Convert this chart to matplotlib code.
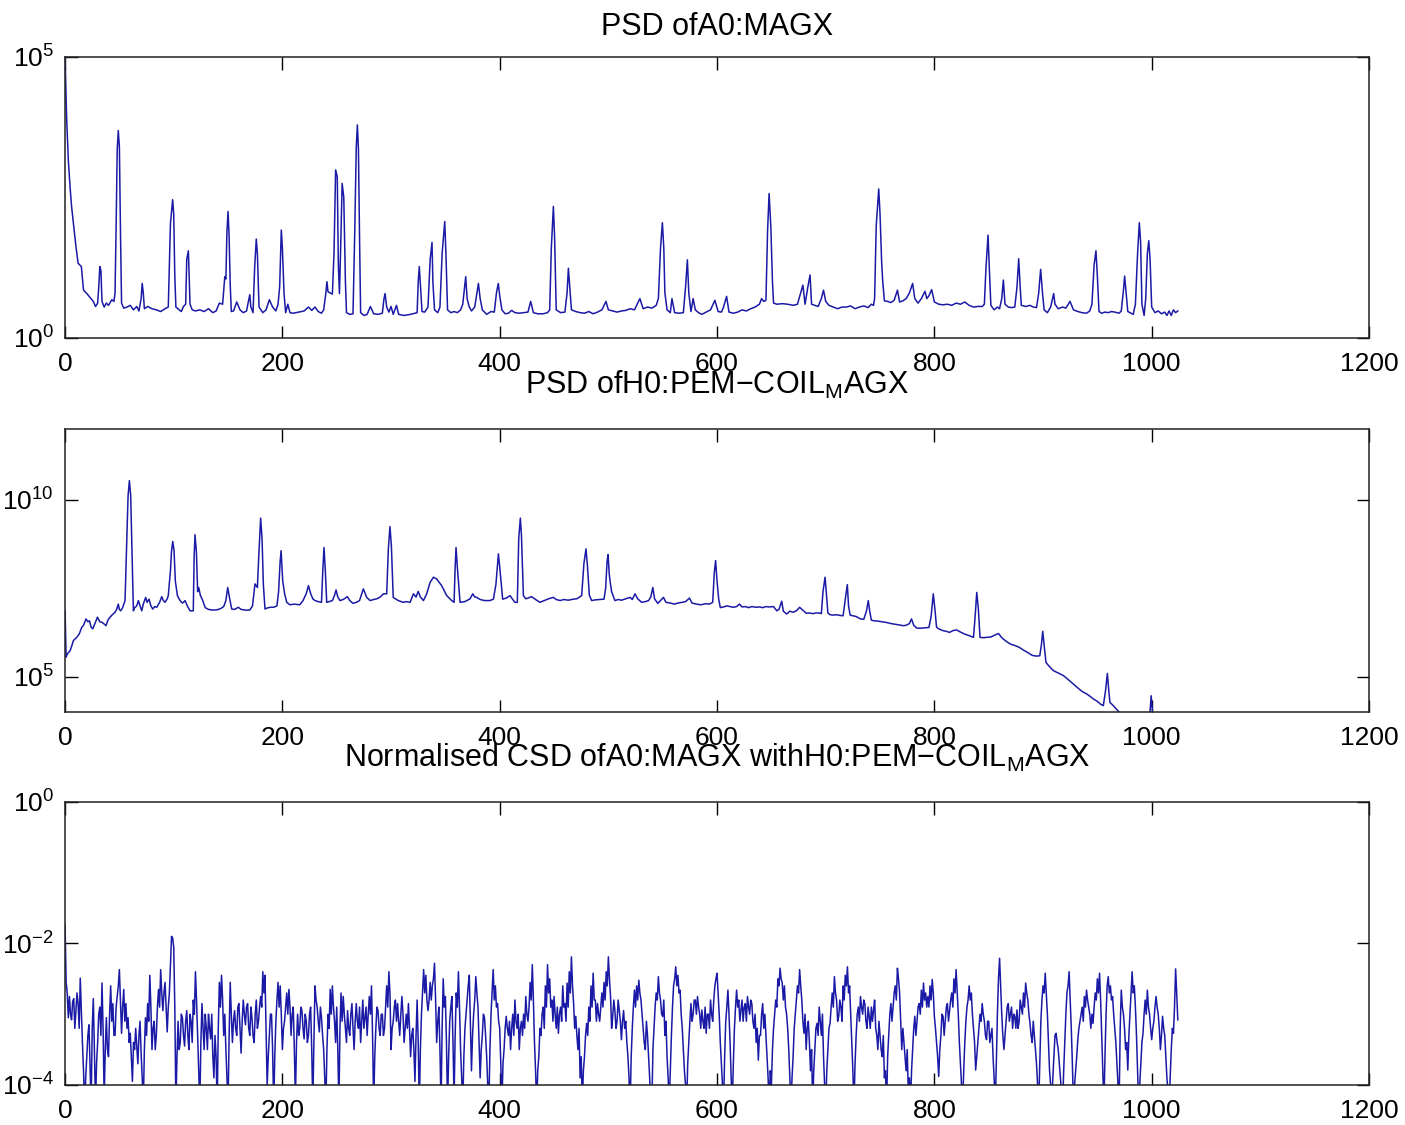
import numpy as np
import matplotlib.pyplot as plt
from matplotlib.ticker import NullLocator

plt.rcParams["font.family"] = ["Liberation Sans", "DejaVu Sans"]
plt.rcParams["mathtext.fontset"] = "custom"
plt.rcParams["mathtext.rm"] = "Liberation Sans"
plt.rcParams["mathtext.it"] = "Liberation Sans:italic"
plt.rcParams["mathtext.bf"] = "Liberation Sans:bold"

# PSD of A0:MAGX -- (frequency [Hz], log10 PSD)
a0_psd = [
    (0, 5.0), (1.5, 3.88), (3, 3.17), (4.6, 2.69), (6, 2.34), (8, 1.98), (10, 1.63),
    (12, 1.33), (15, 1.27), (17, 0.85), (20, 0.79), (23, 0.72), (26, 0.65), (28, 0.56),
    (30, 0.62), (31, 0.90), (32, 1.27), (33, 1.20), (34, 0.65), (36, 0.55), (38, 0.62),
    (40, 0.58), (43, 0.68), (45, 0.65), (46, 0.80), (47, 1.98), (48, 3.35), (49, 3.69),
    (50, 3.40), (51, 1.90), (52, 0.62), (54, 0.53), (57, 0.55), (60, 0.58), (63, 0.50),
    (66, 0.56), (68, 0.48), (70, 0.70), (71, 0.97), (72, 0.80), (73, 0.52), (76, 0.56),
    (80, 0.52), (84, 0.50), (88, 0.47), (92, 0.52), (95, 0.55), (97, 2.04), (99, 2.46),
    (100, 2.20), (101, 1.10), (102, 0.55), (105, 0.50), (107, 0.47), (109, 0.56),
    (111, 0.60), (112, 1.40), (113.5, 1.55), (115, 0.60), (117, 0.50), (120, 0.48),
    (124, 0.50), (128, 0.47), (132, 0.52), (136, 0.45), (139, 0.48), (142, 0.62),
    (145, 0.60), (146, 0.85), (147, 1.09), (148, 1.05), (149, 1.90), (150, 2.25),
    (151, 1.80), (152, 0.95), (153, 0.47), (155, 0.48), (158, 0.64), (161, 0.50),
    (164, 0.45), (167, 0.48), (170, 0.77), (171, 0.55), (173, 0.45), (174.5, 1.26),
    (176, 1.76), (177, 1.50), (178.5, 0.55), (182, 0.45), (185, 0.50), (188, 0.68),
    (191, 0.55), (194, 0.48), (196, 0.60), (197.5, 0.91), (199, 1.92), (200, 1.60),
    (201.5, 0.80), (203, 0.45), (205, 0.60), (207, 0.45), (210, 0.44), (215, 0.46),
    (220, 0.48), (224, 0.55), (227, 0.49), (230, 0.55), (233, 0.47), (236, 0.44),
    (238, 0.50), (240, 0.80), (241, 1.00), (242, 0.82), (244, 0.80), (246, 0.78),
    (247.5, 1.50), (249, 2.99), (250.5, 2.87), (251.5, 1.30), (252.5, 0.79), (253.5, 1.50),
    (255, 2.75), (256.5, 2.50), (258, 1.00), (259, 0.45), (262, 0.42), (265, 0.43),
    (266.5, 1.80), (268, 3.40), (269, 3.79), (270, 3.35), (271, 1.80), (272, 0.45),
    (275, 0.40), (278, 0.42), (281, 0.56), (284, 0.43), (288, 0.42), (292, 0.44),
    (293.5, 0.70), (294.5, 0.79), (296, 0.55), (298, 0.46), (300, 0.56), (302, 0.42),
    (305, 0.58), (307, 0.42), (312, 0.40), (318, 0.42), (322, 0.44), (324, 0.45),
    (325, 1.00), (326, 1.27), (327, 0.95), (328.5, 0.47), (331, 0.46), (334, 0.55),
    (336, 1.40), (337.7, 1.70), (338.5, 1.00), (340, 0.50), (343, 0.45), (345, 0.55),
    (347, 1.50), (349.4, 2.07), (350.5, 1.50), (352, 0.50), (355, 0.45), (358, 0.47),
    (361, 0.45), (364, 0.50), (366, 0.60), (368.7, 1.09), (370, 0.70), (372, 0.55),
    (374, 0.48), (377, 0.55), (379, 0.80), (380.4, 0.97), (382, 0.70), (384, 0.50),
    (388, 0.42), (392, 0.47), (395, 0.46), (397, 0.80), (398.7, 0.97), (400, 0.75),
    (402, 0.50), (405, 0.43), (408, 0.44), (411, 0.49), (414, 0.45), (418, 0.44),
    (422, 0.45), (426, 0.46), (428.5, 0.65), (431, 0.45), (435, 0.43), (440, 0.43),
    (444, 0.45), (446, 0.50), (447.5, 1.60), (449.4, 2.34), (450.5, 1.80), (452, 0.50),
    (456, 0.45), (460, 0.46), (462, 0.80), (463.2, 1.24), (464.5, 0.90), (466, 0.50),
    (470, 0.47), (474, 0.45), (478, 0.44), (482, 0.47), (486, 0.43), (490, 0.46),
    (494, 0.50), (497.8, 0.65), (500, 0.50), (504, 0.48), (508, 0.46), (512, 0.48),
    (516, 0.49), (520, 0.52), (524, 0.50), (529, 0.70), (532, 0.52), (536, 0.55),
    (540, 0.53), (544, 0.58), (546, 0.70), (548, 1.60), (549.7, 2.05), (551, 1.60),
    (552, 0.80), (554, 0.50), (557, 0.45), (558.5, 0.70), (561, 0.45), (565, 0.44),
    (569, 0.45), (571, 0.90), (572.7, 1.39), (574, 0.80), (576, 0.47), (578, 0.70),
    (580, 0.50), (583, 0.45), (586, 0.42), (590, 0.46), (594, 0.50), (598, 0.67),
    (601, 0.47), (604, 0.46), (606, 0.55), (608.8, 0.74), (611, 0.46), (615, 0.44),
    (619, 0.46), (623, 0.50), (627, 0.48), (631, 0.52), (635, 0.55), (639, 0.60),
    (641, 0.70), (643, 0.65), (645, 0.67), (646.5, 1.90), (647.9, 2.57), (649.5, 1.98),
    (651, 1.00), (652, 0.62), (655, 0.60), (660, 0.61), (665, 0.60), (670, 0.58),
    (674, 0.60), (677, 0.80), (679, 0.94), (681, 0.60), (683.5, 0.90), (685.6, 1.12),
    (687, 0.60), (690, 0.58), (693, 0.56), (696, 0.70), (698, 0.85), (700, 0.65),
    (703, 0.58), (707, 0.55), (711, 0.52), (715, 0.55), (719, 0.55), (723, 0.57),
    (727, 0.52), (731, 0.55), (735, 0.57), (739, 0.54), (742, 0.60), (744, 0.58),
    (745, 0.70), (746.5, 2.00), (748.8, 2.65), (750, 2.20), (751.5, 1.34), (752.5, 1.00),
    (754, 0.66), (757, 0.65), (760, 0.63), (763, 0.67), (766, 0.85), (768, 0.64),
    (771, 0.66), (774, 0.70), (777, 0.80), (780, 0.97), (782, 0.70), (785, 0.62),
    (788, 0.70), (791.4, 0.83), (793, 0.70), (795, 0.75), (797.5, 0.86), (800, 0.64),
    (804, 0.60), (808, 0.59), (812, 0.60), (816, 0.58), (820, 0.62), (824, 0.60),
    (828, 0.64), (832, 0.58), (836, 0.55), (840, 0.56), (844, 0.56), (846, 0.60),
    (847.5, 1.25), (849.4, 1.83), (850.5, 1.27), (852, 0.58), (855, 0.50), (858, 0.55),
    (860, 0.52), (862, 0.70), (863.5, 1.03), (865, 0.60), (868, 0.55), (871, 0.54),
    (874, 0.55), (876, 0.90), (877.6, 1.41), (879, 0.90), (880, 0.58), (884, 0.56),
    (888, 0.58), (891, 0.55), (894, 0.54), (896, 0.80), (897.8, 1.22), (899.5, 0.80),
    (901, 0.50), (904, 0.45), (907, 0.55), (909.8, 0.79), (911, 0.60), (914, 0.52),
    (918, 0.55), (921, 0.53), (924.8, 0.65), (928, 0.50), (932, 0.47), (936, 0.45),
    (940, 0.44), (943, 0.48), (945, 0.60), (947, 1.30), (948.7, 1.55), (950, 1.10),
    (951.5, 0.47), (954, 0.44), (957, 0.46), (960, 0.45), (963, 0.47), (966, 0.46),
    (970, 0.44), (972, 0.48), (974, 0.85), (975.1, 1.10), (976.5, 0.80), (978, 0.47),
    (980, 0.45), (983, 0.42), (985, 0.60), (987, 1.50), (988.6, 2.05), (989.8, 1.70),
    (991, 0.60), (993, 0.40), (994.5, 0.70), (996, 1.50), (997.3, 1.73), (998.5, 1.40),
    (1000, 0.55), (1003, 0.45), (1006, 0.48), (1009, 0.43), (1012, 0.46), (1014, 0.40),
    (1016, 0.48), (1018, 0.40), (1020, 0.50), (1022, 0.45), (1024, 0.48),
]

# PSD of H0:PEM-COIL_MAGX -- (frequency [Hz], log10 PSD); falls below 1e4 past ~970 Hz
h0_psd = [
    (0, 6.86), (1, 5.55), (2, 5.64), (4.6, 5.73), (6, 5.85), (7.7, 6.02), (10.7, 6.11),
    (13, 6.20), (15.3, 6.39), (17, 6.45), (19.3, 6.63), (21, 6.55), (22.4, 6.58),
    (24, 6.40), (25.5, 6.35), (27.5, 6.50), (29.8, 6.68), (32, 6.55), (33.7, 6.54),
    (35.5, 6.50), (37.7, 6.44), (39.5, 6.60), (41.4, 6.68), (43.5, 6.75), (46, 6.82),
    (47.5, 6.90), (49, 7.05), (50, 6.90), (51.2, 6.86), (53, 6.95), (55.2, 7.15),
    (56.7, 8.75), (58, 10.11), (59.2, 10.54), (60.4, 10.11), (61.7, 8.42), (62.9, 6.86),
    (64, 6.95), (66, 7.00), (67.5, 7.15), (69, 7.00), (70.6, 6.86), (72, 7.05),
    (74.2, 7.24), (75.5, 7.10), (77.3, 7.19), (79, 7.00), (80.7, 6.91), (82.5, 6.98),
    (84.4, 6.96), (87, 7.10), (89, 7.26), (90.5, 7.15), (92, 7.10), (94, 7.20),
    (95, 7.29), (97, 8.00), (98, 8.55), (99.1, 8.82), (100.3, 8.56), (101.5, 7.70),
    (103.4, 7.29), (105.8, 7.15), (108, 7.08), (109, 7.10), (110.4, 7.15), (112.5, 7.00),
    (115, 6.86), (118, 6.86), (118.8, 8.40), (119.6, 9.01), (120.9, 8.51), (122, 7.40),
    (123, 7.52), (124.5, 7.30), (126.7, 7.15), (129, 6.95), (132, 6.90), (136, 6.88),
    (140, 6.89), (143, 6.92), (146, 6.98), (148, 7.15), (149.7, 7.52), (151.5, 7.20),
    (153.4, 6.91), (156, 6.90), (159.5, 6.96), (162, 6.90), (166, 6.88), (170, 6.88),
    (172.5, 7.00), (174.8, 7.62), (177, 7.52), (178.5, 8.56), (180, 9.48), (181.3, 8.89),
    (182.5, 7.60), (184, 6.91), (186, 6.94), (189, 6.96), (192, 6.96), (195, 7.00),
    (196.5, 7.40), (197.9, 8.23), (198.8, 8.56), (200.3, 7.71), (202, 7.35),
    (204, 7.10), (207, 7.03), (211, 7.05), (216, 7.03), (219, 7.15), (222, 7.35),
    (224, 7.57), (226, 7.35), (228, 7.20), (230, 7.15), (233, 7.12), (236, 7.10),
    (237.2, 8.00), (238.3, 8.65), (239.5, 8.00), (240.8, 7.10), (243, 7.12),
    (246, 7.15), (248, 7.30), (249.4, 7.45), (251, 7.25), (253, 7.15), (256, 7.18),
    (259.8, 7.26), (262, 7.15), (265, 7.07), (268, 7.10), (271, 7.15), (274.5, 7.48),
    (277.6, 7.24), (280.7, 7.15), (284, 7.18), (287, 7.20), (290, 7.25), (293, 7.34),
    (296, 7.34), (297.5, 8.60), (299, 9.24), (300.3, 8.70), (302, 7.24), (304, 7.20),
    (306.7, 7.15), (311, 7.10), (314, 7.12), (317.5, 7.10), (320.6, 7.34), (323, 7.25),
    (325, 7.41), (327, 7.25), (329.8, 7.15), (332.8, 7.34), (335.9, 7.66), (339, 7.81),
    (342, 7.76), (346.6, 7.57), (351.2, 7.29), (355.8, 7.15), (358, 7.10), (359, 8.10),
    (359.8, 8.65), (361, 8.10), (363.5, 7.10), (368, 7.12), (372.7, 7.20), (375.2, 7.34),
    (377, 7.25), (378.8, 7.24), (382, 7.18), (386, 7.15), (391, 7.15), (394.2, 7.19),
    (396.5, 7.60), (398.8, 8.47), (400, 8.10), (402.7, 7.19), (406, 7.22), (409.5, 7.29),
    (412, 7.18), (414, 7.10), (416.2, 7.10), (417.5, 8.90), (419, 9.48), (420, 9.00),
    (421.8, 7.29), (424, 7.20), (426, 7.22), (429.4, 7.26), (433, 7.18), (437, 7.10),
    (441, 7.15), (445, 7.20), (449.4, 7.24), (452, 7.18), (455.6, 7.15), (459, 7.18),
    (463, 7.16), (467.8, 7.19), (471, 7.20), (473.5, 7.25), (475.4, 7.29), (477.5, 8.20),
    (479.4, 8.61), (480.8, 8.10), (482.5, 7.30), (484.6, 7.15), (488, 7.17), (492, 7.18),
    (496, 7.19), (497.5, 7.50), (498.8, 8.25), (499.7, 8.45), (500.8, 7.90), (501.5, 7.71),
    (503, 7.40), (506, 7.15), (509, 7.18), (512, 7.16), (516, 7.20), (520, 7.24),
    (522, 7.18), (524.5, 7.34), (527, 7.20), (530.6, 7.10), (534, 7.12), (537, 7.15),
    (539, 7.25), (540.9, 7.52), (542.5, 7.20), (545.5, 7.07), (548, 7.15), (550.7, 7.24),
    (553, 7.10), (557, 7.08), (560.8, 7.05), (564, 7.08), (568, 7.10), (571, 7.12),
    (574.6, 7.22), (577, 7.08), (581, 7.05), (585.3, 7.03), (589, 7.06), (593, 7.05),
    (596, 7.10), (597.5, 7.95), (598.7, 8.28), (600, 7.70), (601.5, 7.20), (603, 6.95),
    (606, 6.97), (609, 7.00), (612, 6.98), (615, 6.96), (618, 6.98), (620.6, 7.05),
    (623, 6.97), (626, 6.98), (629, 6.95), (632, 6.98), (636, 6.96), (639, 6.97),
    (642, 6.95), (645, 6.98), (648, 6.97), (652, 6.98), (655, 6.86), (657, 6.90),
    (659.5, 7.13), (661, 6.85), (664, 6.77), (667, 6.85), (670, 6.82), (673, 6.86),
    (676, 6.96), (678, 6.90), (680, 6.85), (682, 6.79), (685, 6.80), (688, 6.78),
    (691, 6.80), (694, 6.80), (696, 6.78), (697.5, 7.40), (699.4, 7.81), (700.5, 7.40),
    (702, 6.80), (704, 6.75), (707, 6.74), (710, 6.75), (713, 6.73), (716, 6.72),
    (718.5, 7.30), (719.9, 7.60), (721, 7.00), (722.5, 6.74), (725, 6.72), (728, 6.70),
    (732, 6.63), (735, 6.62), (737.5, 6.85), (739.2, 7.15), (740.5, 6.85), (742, 6.60),
    (744, 6.58), (748, 6.57), (752, 6.55), (756, 6.53), (760, 6.50), (764, 6.48),
    (768, 6.46), (771, 6.44), (774, 6.45), (777, 6.50), (779, 6.63), (781, 6.45),
    (784, 6.37), (788, 6.37), (792, 6.38), (795, 6.39), (797, 6.70), (799, 7.34),
    (800.5, 6.90), (802, 6.40), (804, 6.35), (808, 6.30), (811, 6.28), (814, 6.25),
    (817, 6.30), (820.5, 6.32), (824, 6.26), (828, 6.20), (832, 6.16), (836, 6.11),
    (837.5, 6.70), (839, 7.38), (840.5, 6.90), (842, 6.11), (845, 6.10), (848, 6.11),
    (852, 6.12), (856, 6.18), (859, 6.22), (862, 6.10), (866, 6.00), (870, 5.92),
    (874, 5.88), (878, 5.83), (882, 5.75), (886, 5.68), (890, 5.60), (894, 5.58),
    (897, 5.59), (898.5, 5.90), (899.7, 6.28), (901, 5.90), (902.7, 5.40), (906, 5.28),
    (909.5, 5.17), (914, 5.10), (918.7, 5.03), (923, 4.92), (927.9, 4.79), (932, 4.68),
    (936, 4.58), (940.2, 4.51), (943, 4.45), (946.3, 4.37), (950, 4.30), (953, 4.22),
    (955.5, 4.18), (957.5, 4.60), (959.2, 5.09), (960.5, 4.60), (961.6, 4.27),
    (964, 4.20), (967, 4.10), (970.9, 3.97), (975, 3.85), (980, 3.75), (985, 3.65),
    (990, 3.60), (995, 3.55), (998, 3.80), (999.5, 4.46), (1000.5, 4.10), (1002, 3.50),
    (1010, 3.40), (1024, 3.20),
]

# Normalised CSD, log10 values in 1 Hz bins from 0 Hz (20 bins per row)
csd_bin_hz = 1
csd_log = [
    -1.74, -2.55, -2.70, -3.05, -2.75, -3.00, -3.08, -2.82, -2.78, -3.20, -2.95, -2.70, -2.85, -3.20, -2.49, -2.95, -3.40, -3.80, -4.30, -3.90,
    -3.60, -3.30, -3.15, -3.70, -4.30, -3.20, -2.78, -3.50, -4.30, -3.70, -3.40, -3.00, -2.90, -3.30, -2.56, -3.20, -4.20, -3.50, -3.05, -3.50,
    -3.60, -3.00, -2.60, -3.10, -2.85, -3.30, -3.30, -2.90, -2.75, -2.60, -2.37, -2.80, -3.27, -2.90, -2.65, -3.10, -2.85, -3.20, -3.05, -3.40,
    -3.27, -3.60, -3.95, -3.40, -3.50, -3.20, -3.45, -3.70, -3.30, -3.10, -3.55, -3.90, -4.30, -3.50, -3.05, -3.30, -2.85, -3.10, -2.45, -2.90,
    -3.50, -3.20, -3.10, -3.50, -3.30, -2.90, -2.65, -2.90, -2.37, -2.70, -2.95, -2.70, -2.55, -2.90, -3.25, -2.90, -2.70, -2.30, -1.90, -1.92,
    -2.05, -2.90, -4.30, -3.60, -3.10, -3.50, -3.40, -3.00, -3.05, -3.30, -3.45, -3.10, -2.95, -3.30, -3.50, -3.00, -3.10, -3.40, -2.80, -3.00,
    -2.40, -2.80, -3.30, -3.80, -4.30, -3.40, -2.85, -3.20, -3.50, -3.00, -3.20, -3.50, -3.00, -3.20, -3.35, -3.00, -3.60, -3.90, -3.30, -3.60,
    -4.30, -3.20, -2.55, -2.90, -2.45, -2.80, -3.30, -3.00, -3.50, -3.90, -4.30, -3.30, -2.55, -3.00, -3.40, -3.10, -2.95, -3.20, -3.30, -2.90,
    -2.85, -3.20, -3.55, -3.10, -2.80, -3.00, -3.15, -2.90, -2.85, -3.20, -3.30, -2.90, -3.05, -3.30, -3.40, -3.00, -2.80, -3.20, -3.10, -2.90,
    -2.75, -2.90, -2.40, -2.70, -2.45, -3.20, -4.00, -3.60, -3.30, -3.00, -3.00, -3.50, -4.30, -3.60, -3.10, -2.80, -2.55, -2.90, -2.60, -3.00,
    -3.50, -3.20, -3.10, -2.90, -2.70, -3.00, -2.65, -2.90, -3.30, -3.00, -2.90, -3.50, -4.20, -3.40, -3.00, -3.30, -3.20, -2.90, -2.95, -3.20,
    -3.35, -3.00, -3.10, -3.40, -3.30, -3.00, -2.90, -3.50, -4.30, -3.40, -2.60, -2.80, -2.90, -3.10, -3.25, -2.90, -3.05, -3.30, -3.50, -3.90,
    -4.30, -3.50, -3.00, -3.20, -2.65, -3.00, -2.60, -2.90, -3.10, -3.40, -2.90, -3.50, -4.30, -3.20, -2.70, -3.10, -2.75, -3.00, -3.20, -3.40,
    -2.95, -3.20, -3.30, -3.00, -2.85, -3.20, -3.50, -3.10, -2.85, -3.10, -3.20, -2.90, -3.40, -3.10, -2.80, -3.20, -3.05, -2.90, -3.30, -3.00,
    -2.75, -3.00, -2.60, -3.30, -4.30, -3.60, -3.20, -2.90, -2.95, -3.20, -3.30, -3.00, -3.00, -3.30, -3.20, -2.90, -2.60, -2.90, -2.40, -2.70,
    -3.50, -3.20, -3.10, -2.90, -2.80, -3.10, -2.85, -3.10, -3.30, -3.00, -2.75, -3.00, -3.40, -3.20, -3.00, -3.20, -2.85, -3.20, -3.60, -3.30,
    -3.20, -3.50, -3.95, -3.30, -2.80, -3.40, -4.30, -3.50, -3.00, -2.70, -2.37, -2.70, -2.45, -2.80, -2.95, -2.80, -2.55, -2.80, -2.60, -2.50,
    -2.28, -2.80, -3.40, -3.10, -2.90, -3.50, -4.30, -3.20, -2.50, -2.90, -2.75, -3.40, -4.30, -3.60, -3.10, -2.90, -2.75, -3.40, -4.20, -3.30,
    -2.70, -2.90, -2.40, -2.90, -3.50, -3.90, -4.30, -3.60, -3.20, -3.00, -2.80, -2.60, -2.45, -3.10, -3.80, -3.30, -3.00, -2.80, -2.47, -2.70,
    -2.90, -3.40, -3.90, -3.50, -3.30, -3.00, -3.05, -3.30, -3.60, -4.00, -4.30, -3.50, -3.00, -2.70, -2.37, -2.80, -2.60, -2.90, -2.85, -3.10,
    -3.20, -3.70, -4.30, -3.70, -3.50, -3.20, -3.03, -3.20, -3.30, -3.10, -3.50, -3.20, -3.00, -3.30, -2.80, -3.10, -3.20, -3.00, -3.50, -3.20,
    -3.10, -3.30, -3.00, -3.20, -2.75, -3.00, -3.10, -2.90, -2.55, -2.80, -2.30, -2.80, -3.40, -3.80, -4.30, -3.80, -3.60, -3.20, -3.30, -3.00,
    -2.90, -3.20, -2.60, -2.90, -2.30, -2.70, -2.50, -2.90, -2.80, -3.10, -2.75, -3.00, -3.20, -2.90, -3.27, -3.00, -2.90, -3.10, -2.60, -2.90,
    -2.85, -3.10, -2.56, -2.90, -2.40, -2.70, -2.19, -2.60, -2.85, -3.20, -3.03, -3.30, -3.50, -3.20, -3.90, -3.60, -4.30, -3.80, -3.60, -3.30,
    -3.13, -3.30, -2.90, -3.10, -2.60, -2.90, -2.42, -2.80, -2.80, -3.10, -2.85, -3.00, -3.10, -2.90, -2.70, -2.90, -2.55, -2.80, -2.40, -2.60,
    -2.19, -2.50, -2.75, -3.20, -3.03, -2.80, -2.95, -3.20, -3.10, -2.80, -2.94, -3.10, -3.36, -3.10, -2.95, -3.20, -3.10, -3.40, -3.60, -3.90,
    -4.30, -3.60, -3.20, -2.90, -2.66, -2.90, -2.60, -2.80, -2.52, -2.70, -2.80, -3.00, -3.20, -3.40, -3.50, -3.10, -3.30, -3.60, -3.90, -4.30,
    -4.30, -3.50, -3.20, -2.90, -2.70, -2.80, -2.47, -2.70, -2.80, -3.00, -3.03, -2.80, -3.30, -3.10, -3.60, -3.90, -4.30, -3.80, -3.30, -2.90,
    -2.60, -2.50, -2.33, -2.60, -2.45, -2.70, -2.66, -3.00, -3.20, -3.50, -3.80, -4.00, -4.30, -3.70, -3.40, -3.10, -2.85, -3.10, -3.00, -2.80,
    -2.80, -3.00, -2.75, -2.90, -3.00, -3.20, -2.94, -3.10, -3.20, -2.90, -3.27, -3.00, -3.00, -3.20, -2.80, -3.00, -3.10, -2.80, -2.60, -2.50,
    -2.42, -2.70, -3.00, -3.40, -3.70, -4.00, -4.30, -3.60, -3.10, -2.90, -2.66, -3.00, -3.40, -3.90, -4.30, -3.70, -3.20, -2.90, -2.66, -2.90,
    -2.80, -3.10, -2.94, -2.80, -3.10, -2.90, -2.85, -3.10, -2.75, -2.90, -3.00, -2.80, -2.85, -3.10, -3.20, -3.00, -3.40, -3.20, -3.65, -3.30,
    -3.30, -3.00, -2.85, -3.20, -3.00, -3.30, -3.60, -3.90, -4.30, -3.80, -4.00, -3.50, -3.20, -3.00, -2.80, -2.90, -2.50, -2.60, -2.35, -2.50,
    -2.56, -2.80, -2.60, -2.90, -3.00, -3.20, -3.50, -3.90, -4.30, -3.90, -3.60, -3.20, -3.00, -2.80, -2.60, -2.70, -2.37, -2.60, -2.80, -3.10,
    -3.27, -3.00, -3.50, -3.20, -3.10, -3.40, -3.80, -3.50, -4.30, -3.80, -3.50, -3.20, -3.13, -3.30, -2.90, -3.10, -3.30, -3.00, -3.60, -4.00,
    -4.30, -3.80, -3.50, -3.20, -3.13, -2.90, -2.70, -2.90, -2.47, -2.70, -2.80, -3.10, -3.03, -2.80, -2.90, -3.10, -2.60, -2.80, -2.45, -2.60,
    -2.33, -2.70, -2.60, -3.00, -3.40, -3.80, -4.30, -3.70, -3.30, -3.00, -2.90, -3.10, -2.75, -2.90, -3.00, -2.80, -2.85, -3.10, -3.20, -2.90,
    -3.03, -3.20, -2.90, -3.10, -2.94, -2.80, -3.20, -3.30, -3.50, -3.10, -3.30, -3.50, -3.60, -3.30, -3.90, -3.80, -4.30, -3.60, -3.30, -3.00,
    -2.85, -3.10, -2.90, -2.70, -2.60, -2.80, -2.35, -2.50, -2.70, -3.10, -3.50, -3.20, -3.40, -3.60, -3.80, -3.50, -4.10, -3.90, -4.30, -3.80,
    -3.50, -3.20, -3.03, -3.30, -3.10, -2.90, -2.85, -3.00, -2.66, -2.90, -2.56, -2.80, -2.70, -2.90, -2.75, -2.90, -2.60, -2.80, -2.51, -2.70,
    -3.03, -3.20, -3.40, -3.60, -3.88, -3.50, -3.30, -3.00, -3.03, -3.30, -3.10, -2.90, -2.85, -3.10, -2.95, -2.80, -2.70, -2.90, -2.50, -2.70,
    -2.37, -2.70, -3.00, -3.40, -3.70, -4.00, -4.30, -3.80, -3.40, -3.10, -2.90, -2.80, -2.60, -2.80, -2.70, -3.00, -3.20, -3.40, -3.79, -3.60,
    -3.40, -3.20, -3.00, -3.10, -2.85, -3.00, -3.10, -3.30, -3.36, -3.10, -3.10, -3.40, -3.30, -3.20, -3.60, -3.90, -4.30, -3.70, -3.00, -2.50,
    -2.21, -2.60, -3.00, -3.30, -3.50, -3.30, -3.10, -2.90, -2.85, -3.10, -3.00, -2.90, -3.20, -3.00, -3.03, -3.20, -2.94, -3.20, -3.10, -2.80,
    -2.90, -3.00, -2.70, -2.90, -2.56, -2.70, -2.80, -3.00, -3.13, -3.30, -3.40, -3.10, -3.30, -3.50, -3.70, -4.00, -4.30, -3.70, -3.10, -2.80,
    -2.60, -2.70, -2.42, -2.70, -3.00, -3.40, -3.80, -4.00, -4.30, -3.90, -3.60, -3.30, -3.27, -3.40, -3.50, -3.70, -3.90, -4.10, -4.30, -3.80,
    -3.40, -3.00, -2.70, -2.60, -2.40, -2.80, -3.20, -3.70, -4.30, -4.00, -3.80, -3.60, -3.36, -3.20, -3.10, -3.00, -2.90, -3.10, -2.75, -2.90,
    -2.66, -2.80, -2.90, -3.00, -3.20, -3.00, -3.13, -2.90, -2.70, -2.80, -2.50, -2.70, -2.42, -2.80, -3.30, -3.80, -4.30, -3.60, -3.00, -2.60,
    -2.47, -2.70, -2.60, -2.80, -2.75, -3.00, -3.20, -3.40, -3.70, -4.00, -4.30, -3.20, -2.66, -2.90, -3.00, -3.20, -3.50, -3.40, -3.79, -3.30,
    -3.00, -2.70, -2.40, -2.70, -2.60, -2.90, -3.30, -3.80, -4.30, -4.00, -3.70, -3.40, -3.27, -3.00, -2.80, -3.00, -2.66, -2.90, -3.00, -3.20,
    -3.36, -3.20, -3.10, -2.90, -2.75, -2.90, -3.00, -3.20, -3.50, -3.30, -3.03, -3.20, -3.30, -3.60, -3.90, -4.10, -4.30, -3.90, -3.50, -3.20,
    -3.27, -2.90, -2.36, -2.70, -3.08,
]

titles = [
    "PSD ofA0:MAGX",
    "PSD ofH0:PEM\u2212COIL$_\\mathregular{M}$AGX",
    "Normalised CSD ofA0:MAGX withH0:PEM\u2212COIL$_\\mathregular{M}$AGX",
]
y_limits = [(1e0, 1e5), (1e4, 1e12), (1e-4, 1e0)]
y_ticks = [[1e0, 1e5], [1e5, 1e10], [1e-4, 1e-2, 1e0]]
x_ticks = [0, 200, 400, 600, 800, 1000, 1200]
title_pads = [16, 25, 25]

a0 = np.array(a0_psd)
h0 = np.array(h0_psd)
csd = np.array(csd_log)
csd_freq = csd_bin_hz * np.arange(len(csd))

series = [
    (a0[:, 0], 10.0 ** a0[:, 1]),
    (h0[:, 0], 10.0 ** h0[:, 1]),
    (csd_freq, 10.0 ** csd),
]

fig = plt.figure(figsize=(14.05, 11.25), dpi=100)
# axes boxes in figure fractions, top to bottom
boxes = [
    [0.0463, 0.6996, 0.9281, 0.2498],
    [0.0463, 0.3671, 0.9281, 0.2516],
    [0.0463, 0.0356, 0.9281, 0.2516],
]

line_color = "#1a1aa6"
for box, (f, v), title, ylim, yt, pad in zip(boxes, series, titles, y_limits, y_ticks, title_pads):
    ax = fig.add_axes(box)
    ax.plot(f, v, color=line_color, linewidth=1.1)
    ax.set_yscale("log")
    ax.set_xlim(0, 1200)
    ax.set_ylim(*ylim)
    ax.set_xticks(x_ticks)
    ax.set_yticks(yt)
    ax.yaxis.set_minor_locator(NullLocator())
    ax.tick_params(axis="both", which="major", direction="in", length=9, width=1.0,
                   top=True, right=True, labelsize=19, colors="black")
    ax.tick_params(axis="x", pad=10)
    ax.tick_params(axis="y", pad=8)
    for spine in ax.spines.values():
        spine.set_linewidth(1.1)
        spine.set_color("#222222")
    ax.set_title(title, fontsize=22, pad=pad)

fig.savefig("out.png", dpi=100)
plt.close(fig)
